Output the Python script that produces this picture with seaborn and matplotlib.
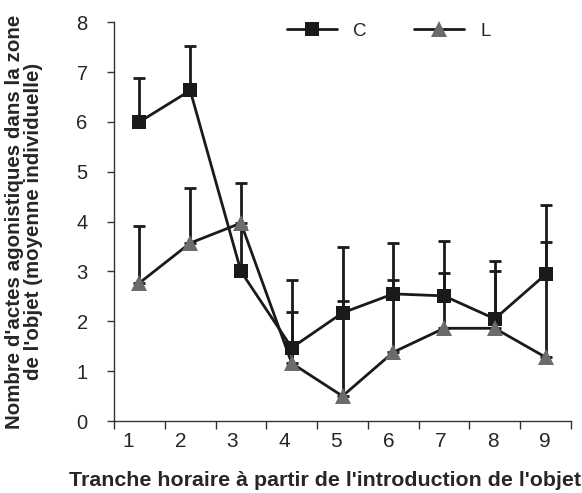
import numpy as np
import pandas as pd
import matplotlib
matplotlib.use("Agg")
import matplotlib.pyplot as plt
import seaborn as sns

# ── Data ──────────────────────────────────────────────
tranches = [1, 2, 3, 4, 5, 6, 7, 8, 9]
c_mean = [6.00, 6.63, 3.00, 1.47, 2.17, 2.55, 2.51, 2.05, 2.94]
c_err = [0.89, 0.90, 0.90, 1.36, 1.32, 1.02, 1.10, 1.16, 1.39]
l_mean = [2.77, 3.57, 3.97, 1.16, 0.50, 1.38, 1.86, 1.86, 1.28]
l_err = [1.14, 1.10, 0.80, 1.02, 1.90, 1.45, 1.11, 1.15, 2.31]

df = pd.DataFrame({
    "Tranche": tranches * 2,
    "Valeur": c_mean + l_mean,
    "Groupe": ["C"] * 9 + ["L"] * 9,
})

# ── Setup ──────────────────────────────────────────────
sns.set_style("ticks")
plt.rcParams["font.family"] = ["Liberation Sans", "DejaVu Sans"]

fig = plt.figure(figsize=(5.82, 4.93), dpi=100)
ax = fig.add_axes([0.196, 0.146, 0.785, 0.809])

dark = "#1a1a1a"
grey = "#6b6b6b"

# error bars (upper only)
for mean, err in [(c_mean, c_err), (l_mean, l_err)]:
    ax.errorbar(tranches, mean, yerr=[np.zeros(len(err)), err],
                fmt="none", ecolor=dark, elinewidth=2.0,
                capsize=4.5, capthick=2.0, zorder=2)

sns.lineplot(data=df, x="Tranche", y="Valeur", hue="Groupe", style="Groupe",
             markers={"C": "s", "L": "^"}, dashes=False,
             palette={"C": dark, "L": dark}, linewidth=2.0,
             markersize=10, markeredgewidth=0, ax=ax, zorder=3)

# marker colours: C black, L grey (and bigger triangles)
for line in ax.lines:
    if line.get_marker() == "^":
        line.set_markerfacecolor(grey)
        line.set_markeredgecolor(grey)
        line.set_markersize(12)
    elif line.get_marker() == "s":
        line.set_markerfacecolor(dark)
        line.set_markeredgecolor(dark)

ax.set_xlim(0.5, 9.5)
ax.set_ylim(0, 8)
ax.set_xticks(np.arange(0.5, 10, 1))
ax.set_xticklabels([])
# category labels sit a little left of the points, as in the original
ax.set_xticks(np.linspace(0.78, 8.98, 9), minor=True)
ax.set_xticklabels([str(t) for t in tranches], minor=True, fontsize=15)
ax.tick_params(axis="x", which="major", length=6, width=1, color="#333333")
ax.tick_params(axis="x", which="minor", length=0, pad=8)
ax.set_yticks(range(0, 9))
ax.tick_params(axis="y", length=5, width=1, color="#333333", labelsize=14.5, pad=14)

sns.despine(ax=ax)
for sp in ["left", "bottom"]:
    ax.spines[sp].set_color("#333333")
    ax.spines[sp].set_linewidth(1)

ax.set_xlabel("Tranche horaire à partir de l'introduction de l'objet",
              fontsize=15.4, fontweight="bold")
ax.xaxis.set_label_coords(0.462, -0.125)
ax.set_ylabel("Nombre d'actes agonistiques dans la zone\nde l'objet (moyenne individuelle)",
              fontsize=14.8, fontweight="bold", linespacing=1.05)
ax.yaxis.set_label_coords(-0.155, 0.5)

handles, labels = ax.get_legend_handles_labels()
ax.get_legend().remove()
for h in handles:
    if h.get_marker() == "^":
        h.set_markerfacecolor(grey)
        h.set_markeredgecolor(grey)
        h.set_markersize(12)
fig.legend(handles, labels, ncol=2, frameon=False, fontsize=13.5,
           loc="center left", bbox_to_anchor=(0.493, 0.937),
           bbox_transform=fig.transFigure, borderaxespad=0, borderpad=0,
           handlelength=2.67, columnspacing=2.55, handletextpad=0.85)

plt.savefig("out.png", dpi=100)
plt.close()
